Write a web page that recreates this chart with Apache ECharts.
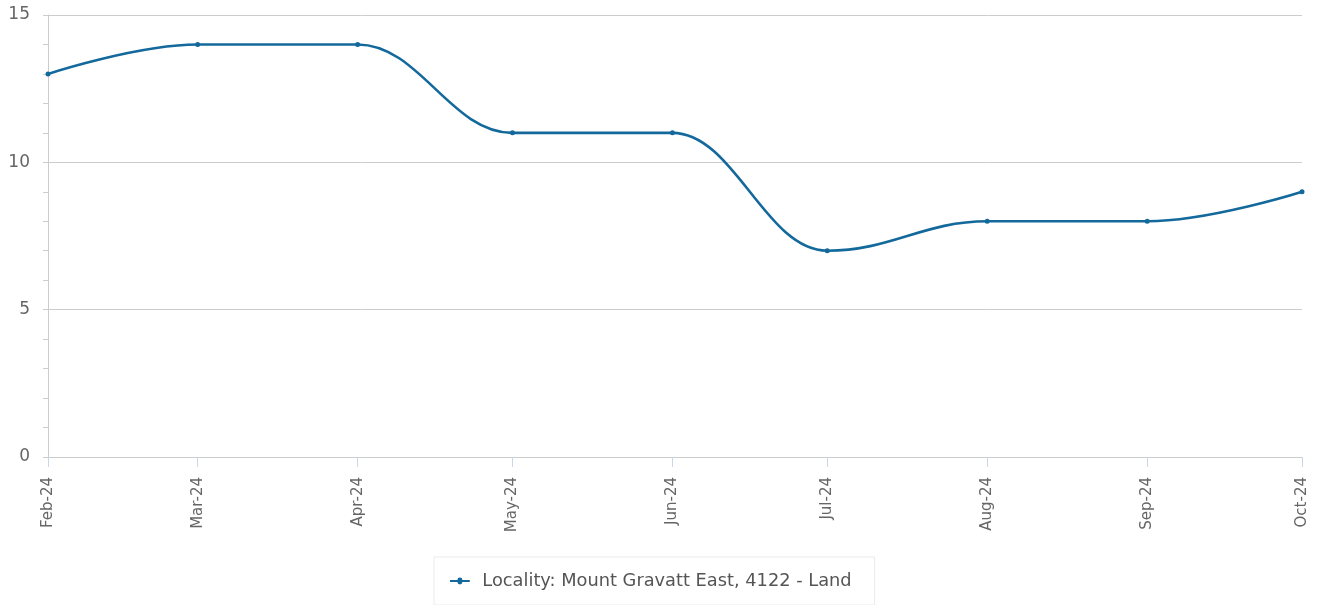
<!DOCTYPE html>
<html lang="en">
<head>
    <meta charset="UTF-8" />
    <title>Mount Gravatt East</title>
    <script src="https://cdn.jsdelivr.net/npm/echarts@6/dist/echarts.min.js"></script>
    <style>
        html, body { margin: 0; padding: 0; background: #fff; }
        #main { width: 1322px; height: 605px; }
    </style>
</head>
<body>
    <div id="main"></div>
</body>
<script>
    var months = ['2024-02-01', '2024-03-01', '2024-04-01', '2024-05-01', '2024-06-01',
        '2024-07-01', '2024-08-01', '2024-09-01', '2024-10-01'];
    var values = [13, 14, 14, 11, 11, 7, 8, 8, 9];
    var seriesName = 'Locality: Mount Gravatt East, 4122 - Land';
    var monthNames = ['Jan', 'Feb', 'Mar', 'Apr', 'May', 'Jun', 'Jul', 'Aug', 'Sep', 'Oct', 'Nov', 'Dec'];

    var toTs = function (s) {
        var p = s.split('-');
        return Date.UTC(+p[0], +p[1] - 1, +p[2]);
    };
    var ticks = months.map(toTs);
    var points = [];
    for (var i = 0; i < months.length; i++) {
        points.push([ticks[i], values[i]]);
    }

    var font = "'DejaVu Sans', Verdana, sans-serif";
    var lineColor = '#14699c';
    // legend marker: line with a small dot, plus an empty point at x=30 to leave a gap before the text
    var legendIcon = 'path://M0,3.5 L9,3.5 A3,3 0 0 1 15,3.5 L24,3.5 L24,6 L15,6 A3,3 0 0 1 9,6 L0,6 Z M30,4.75 L30,4.75 Z';

    var myChart = echarts.init(document.getElementById('main'));
    var option = {
        animation: false,
        textStyle: { fontFamily: font },
        grid: { left: 48, right: 20, top: 15, bottom: 148, outerBoundsMode: 'none' },
        legend: {
            bottom: 0,
            left: 434,
            data: [{ name: seriesName, icon: legendIcon }],
            padding: [15, 23, 15, 16],
            borderColor: '#ebebeb',
            borderWidth: 1,
            itemWidth: 30,
            itemHeight: 7,
            itemGap: 10,
            itemStyle: { color: lineColor },
            textStyle: { color: '#555', fontSize: 17.8, fontFamily: font }
        },
        xAxis: {
            type: 'value',
            min: ticks[0],
            max: ticks[ticks.length - 1],
            splitLine: { show: false },
            axisLine: { lineStyle: { color: '#ccc' } },
            axisTick: {
                show: true,
                customValues: ticks,
                length: 10,
                lineStyle: { color: '#ccd6eb' }
            },
            axisLabel: {
                customValues: ticks,
                rotate: 90,
                margin: 20,
                color: '#666',
                fontSize: 15,
                fontFamily: font,
                formatter: function (v) {
                    var d = new Date(v);
                    return monthNames[d.getUTCMonth()] + '-' + String(d.getUTCFullYear()).slice(2);
                }
            }
        },
        yAxis: {
            type: 'value',
            min: 0,
            max: 15,
            interval: 5,
            axisLine: { show: true, lineStyle: { color: '#ccc' } },
            axisTick: { show: true, length: 5, lineStyle: { color: '#ccc' } },
            minorTick: { show: true, splitNumber: 5, length: 5, lineStyle: { color: '#ccc' } },
            splitLine: { lineStyle: { color: '#ccc' } },
            axisLabel: { color: '#666', fontSize: 17, margin: 18, fontFamily: font }
        },
        series: [{
            name: seriesName,
            type: 'line',
            data: points,
            smooth: 0.4,
            smoothMonotone: 'x',
            symbol: 'circle',
            symbolSize: 5,
            itemStyle: { color: lineColor },
            lineStyle: { width: 2.6, color: lineColor }
        }]
    };
    myChart.setOption(option);
</script>
</html>
